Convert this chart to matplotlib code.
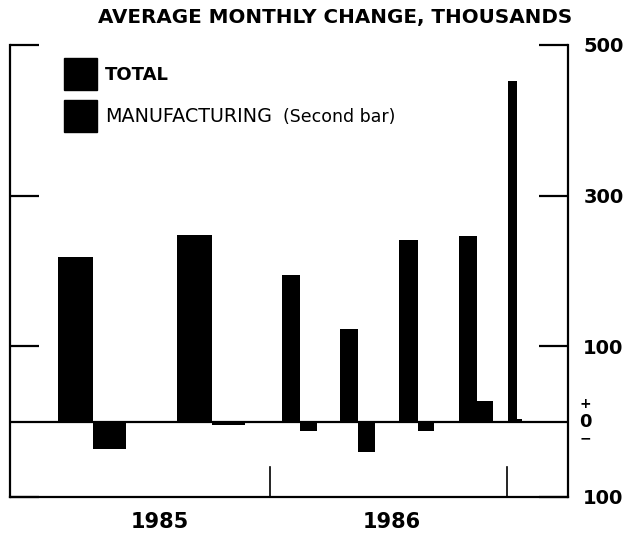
import matplotlib
matplotlib.use("Agg")
import matplotlib.pyplot as plt
import matplotlib.transforms as mtransforms

# ---- data (thousands, average monthly change) ----
periods = ["1985 P1", "1985 P2", "1986 P1", "1986 P2", "1986 P3", "1986 P4", "1986 P5"]
total = [219, 248, 195, 123, 241, 246, 452]
manufacturing = [-36, -4, -13, -40, -12, 27, 4]
year_labels = ["1985", "1986"]
ytick_vals = [500, 300, 100, -100]
ytick_text = ["500", "300", "100", "100"]

# ---- layout (horizontal placement, in pixel-like units) ----
total_left = [48, 167, 272, 330, 389, 449, 498]
total_width = [35, 35, 18, 18, 19, 18, 9]
mfg_width = [33, 33, 17, 17, 16, 16, 5]
separators = [260, 497]
year_pos = [150, 382]

W, H = 627, 537
fig = plt.figure(figsize=(W / 100, H / 100), dpi=100)
ax = fig.add_axes([10 / W, 1 - 497 / H, 558 / W, 452 / H])
ax.set_xlim(0, 558)
ax.set_ylim(-100, 500)

for i in range(len(periods)):
    ax.bar(total_left[i], total[i], width=total_width[i], align="edge",
           color="black", linewidth=0)
    ax.bar(total_left[i] + total_width[i], manufacturing[i], width=mfg_width[i],
           align="edge", color="black", linewidth=0)

ax.axhline(0, color="black", lw=1.6)
for s in separators:
    ax.plot([s, s], [-100, -60], color="black", lw=1.2)

for sp in ["left", "right", "bottom"]:
    ax.spines[sp].set_linewidth(1.6)
ax.spines["top"].set_visible(False)

ax.set_xticks([])
ax.set_yticks(ytick_vals)
ax.set_yticklabels(ytick_text)
ax.tick_params(axis="y", which="both", direction="in", length=21, width=1.6,
               left=True, right=True, labelleft=False, labelright=True,
               labelsize=14)
for lab in ax.get_yticklabels():
    lab.set_fontweight("bold")
    lab.set_horizontalalignment("left")
ax.yaxis.set_tick_params(pad=11)

# zero label with +/- signs
tr = mtransforms.blended_transform_factory(ax.transAxes, ax.transData)
zx = 1.0 + 17 / 558
ax.text(zx, 0, "0", transform=tr, ha="center", va="center",
        fontsize=13, fontweight="bold")
ax.text(zx, 23, "+", transform=tr, ha="center", va="center",
        fontsize=10, fontweight="bold")
ax.text(zx, -22, "\u2212", transform=tr, ha="center", va="center",
        fontsize=10, fontweight="bold")

# year labels
for xp, yl in zip(year_pos, year_labels):
    ax.text(xp, -133, yl, ha="center", va="center", fontsize=15,
            fontweight="bold", clip_on=False)

# title
fig.text(572 / W, 1 - 18 / H, "AVERAGE MONTHLY CHANGE, THOUSANDS",
         ha="right", va="center", fontsize=14.3, fontweight="bold")

# legend
fig.patches.append(plt.Rectangle((64 / W, 1 - 90 / H), 33 / W, 32 / H,
                                 transform=fig.transFigure, color="black"))
fig.patches.append(plt.Rectangle((64 / W, 1 - 132 / H), 33 / W, 32 / H,
                                 transform=fig.transFigure, color="black"))
fig.text(105 / W, 1 - 75 / H, "TOTAL", ha="left", va="center",
         fontsize=13, fontweight="bold")
fig.text(105 / W, 1 - 117 / H, "MANUFACTURING", ha="left", va="center",
         fontsize=13.8)
fig.text(283 / W, 1 - 117 / H, "(Second bar)", ha="left", va="center",
         fontsize=12.5)

fig.savefig("out.png", dpi=100)
